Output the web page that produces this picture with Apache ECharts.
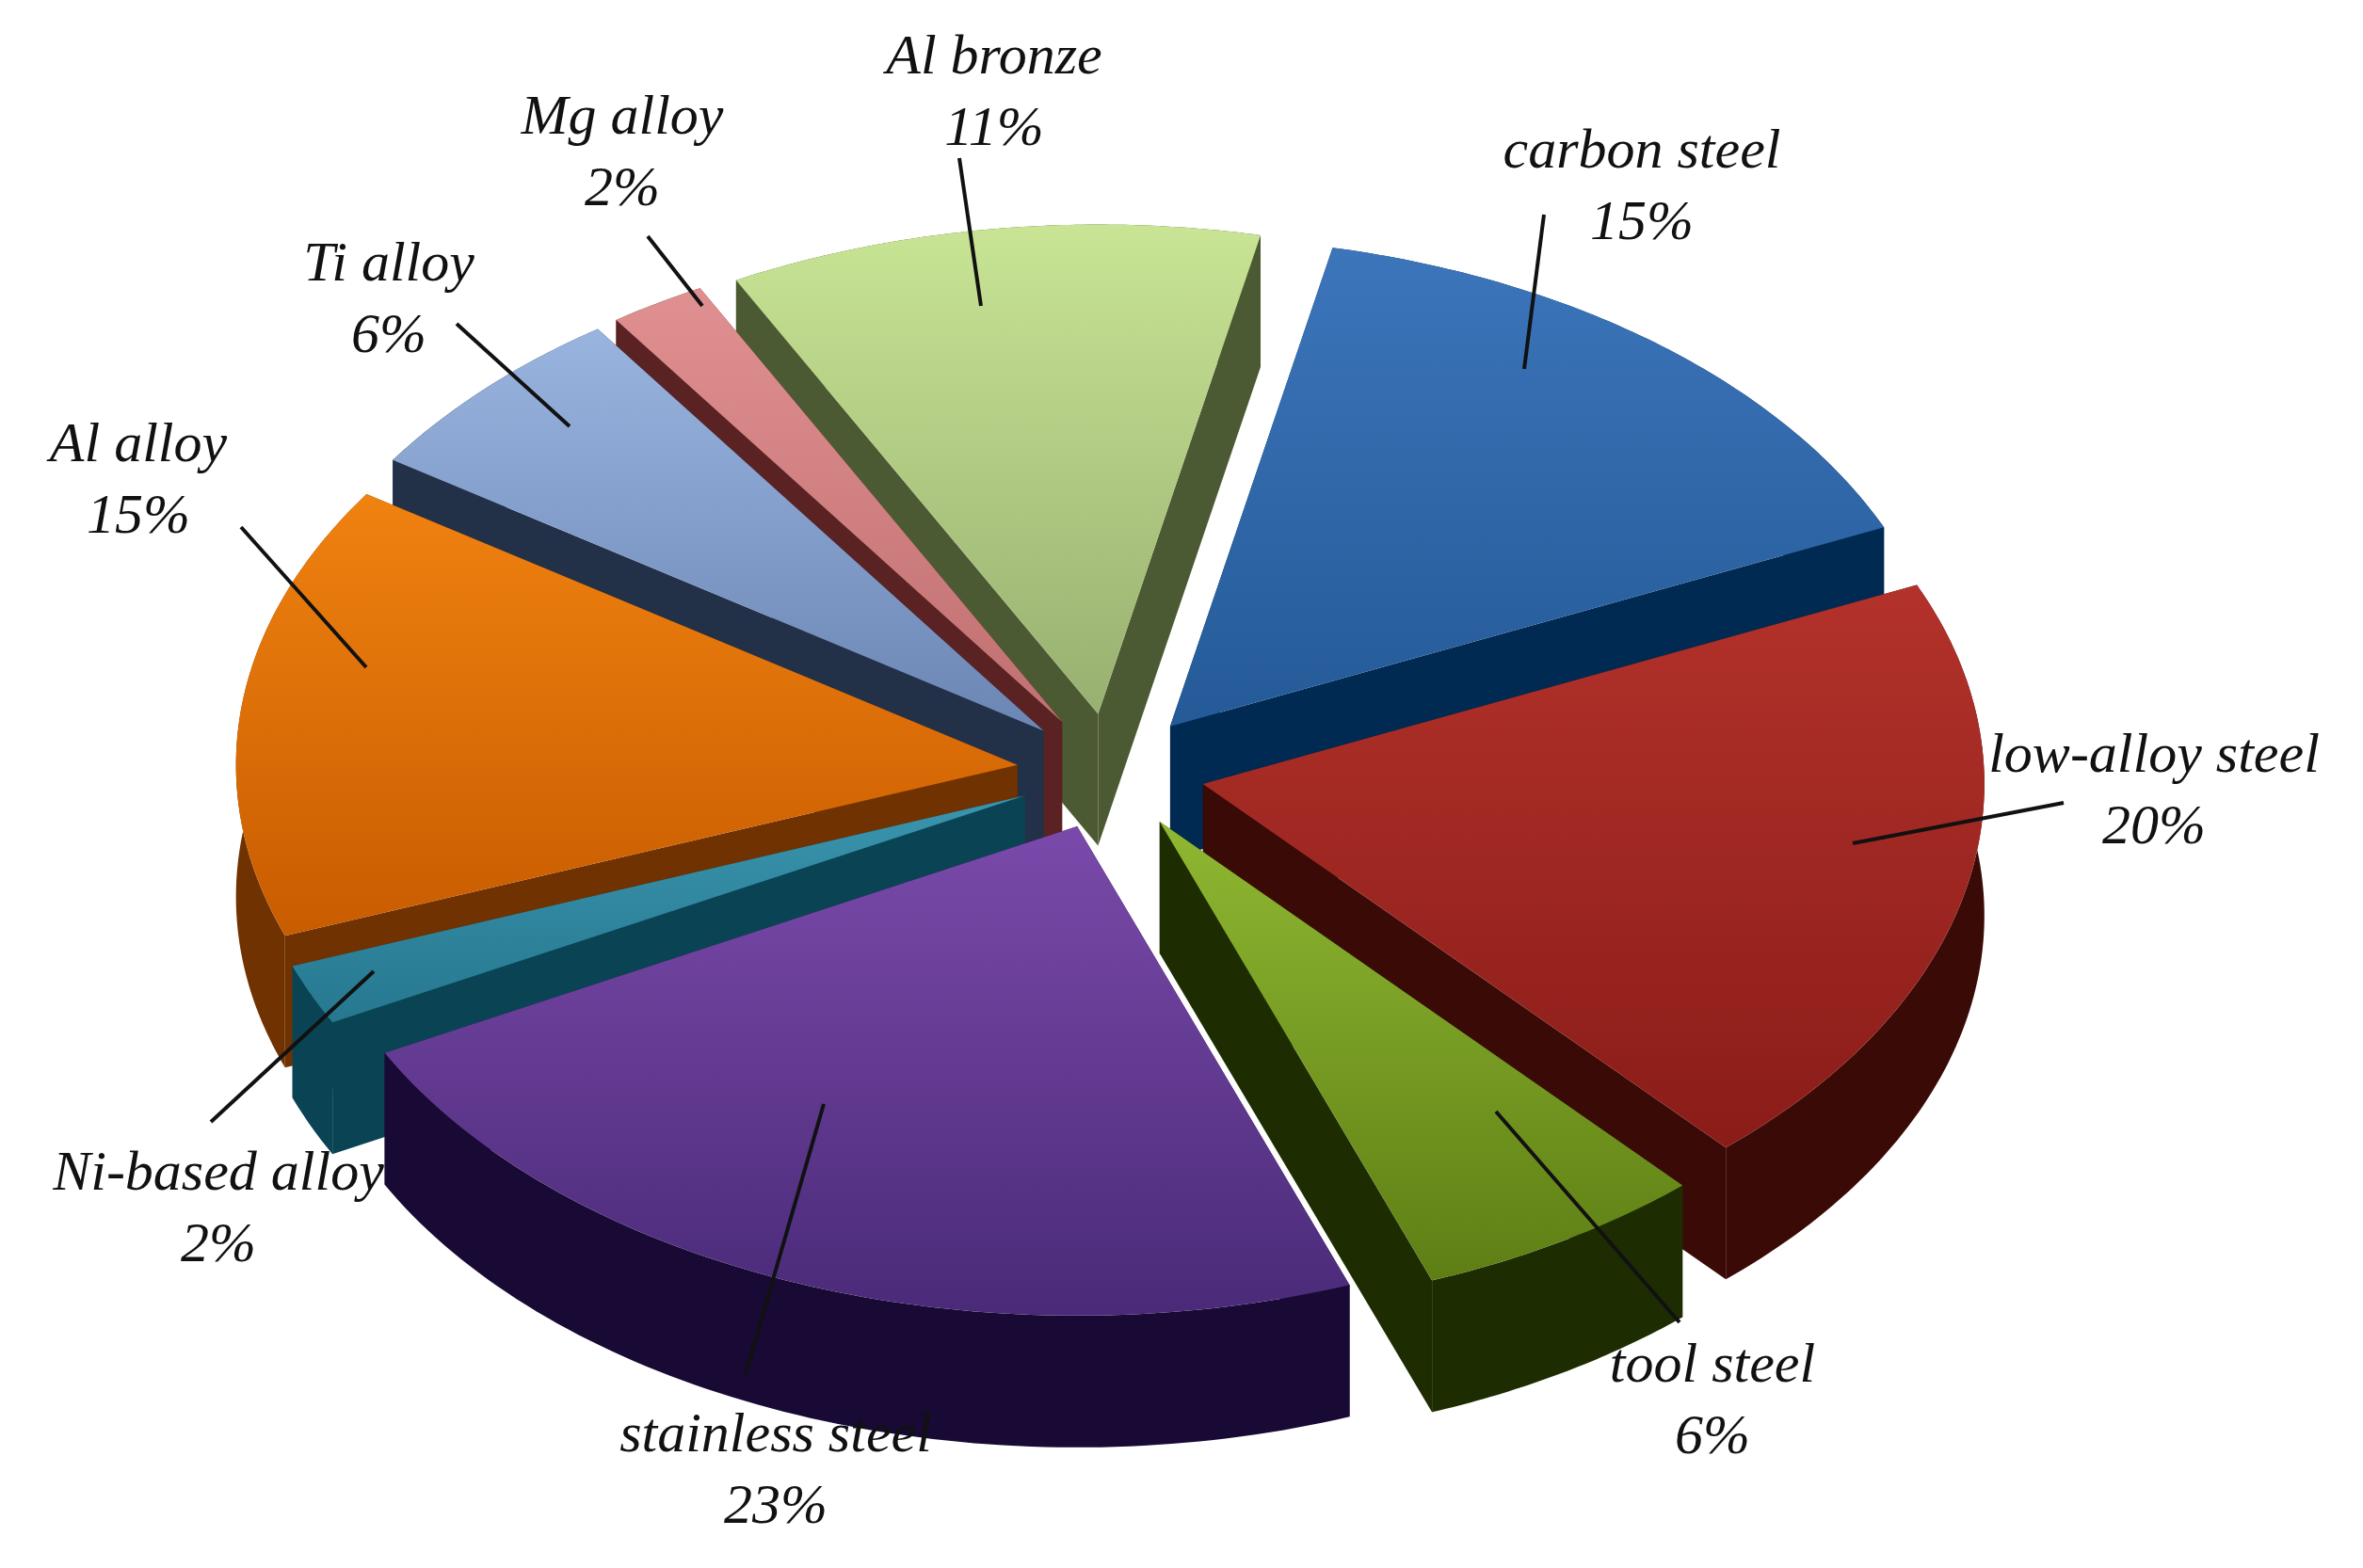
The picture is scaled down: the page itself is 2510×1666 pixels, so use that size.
<!DOCTYPE html>
<html><head><meta charset="utf-8">
<script src="https://cdn.jsdelivr.net/npm/echarts@6/dist/echarts.min.js"></script>
<style>html,body{margin:0;background:#fff}#c{width:2510px;height:1666px}</style>
</head><body><div id="c"></div>
<script>
// slices, clockwise from top
const names = ["carbon steel", "low-alloy steel", "tool steel", "stainless steel", "Ni-based alloy", "Al alloy", "Ti alloy", "Mg alloy", "Al bronze"];
const shares = [15, 20, 6, 23, 2, 15, 6, 2, 11];
const topColors = [["#3d75bb", "#245a97"], ["#b3322b", "#8a1c18"], ["#8fb832", "#5e7e14"], ["#7a4aaa", "#4a2a78"], ["#3a95ae", "#26788f"], ["#f08210", "#c85c00"], ["#9ab4e0", "#6c86b4"], ["#e09090", "#c07070"], ["#c8e494", "#98b070"]];
const sideColors = ["#002a52", "#3a0a06", "#1e2c02", "#180a34", "#0a4454", "#703200", "#223048", "#5a2222", "#4c5a34"];
// label anchor positions (pixels) and label-line ends
const labelPos = [[1744, 200], [2288, 842], [1819, 1490], [824, 1564], [232, 1286], [147, 512], [413, 320], [661, 164], [1056, 100]];
const lineEnd = [[1640, 228], [2192, 853], [1784, 1405], [792, 1460], [224, 1192], [256, 560], [485, 344], [688, 251], [1019, 168]];
const lineIn = [[1619, 392], [1968, 896], [1589, 1181], [875, 1173], [397, 1032], [389, 709], [605, 453], [746, 325], [1042, 325]];

const cx = 1180, cy = 820, rx = 830, ry = 520, depth = 140, explode = 100, startDeg = 12;

const chart = echarts.init(document.getElementById('c'));
const total = shares.reduce((a, b) => a + b, 0);
let acc = startDeg;
const slices = shares.map((v, i) => {
  const a0 = acc, a1 = acc + v / total * 360; acc = a1;
  return { i, a0, a1, mid: (a0 + a1) / 2 };
});
const rad = d => d * Math.PI / 180;
function pt(ox, oy, deg, k, dz) {
  return [ox + k * rx * Math.sin(rad(deg)), oy - k * ry * Math.cos(rad(deg)) + (dz || 0)];
}
// draw back to front
const order = slices.slice().sort((a, b) => Math.cos(rad(b.mid)) - Math.cos(rad(a.mid)));

function renderSlice(params, api) {
  const s = order[params.dataIndex];
  const i = s.i;
  const ox = cx + explode * Math.sin(rad(s.mid));
  const oy = cy - explode * 0.62 * Math.cos(rad(s.mid));
  const arc = [];
  for (let d = s.a0; d <= s.a1 + 0.01; d += Math.max(0.5, (s.a1 - s.a0) / 80)) arc.push(d);
  if (arc[arc.length - 1] < s.a1) arc.push(s.a1);
  const top = [[ox, oy]].concat(arc.map(d => pt(ox, oy, d, 1)));
  const outer = arc.map(d => pt(ox, oy, d, 1)).concat(arc.slice().reverse().map(d => pt(ox, oy, d, 1, depth)));
  const wall = d => [[ox, oy], pt(ox, oy, d, 1), pt(ox, oy, d, 1, depth), [ox, oy + depth]];
  const side = sideColors[i];
  const grad = new echarts.graphic.LinearGradient(0, 0, 0, 1, [{ offset: 0, color: topColors[i][0] }, { offset: 1, color: topColors[i][1] }]);
  return {
    type: 'group',
    children: [
      { type: 'polygon', shape: { points: wall(s.a0) }, style: { fill: side } },
      { type: 'polygon', shape: { points: wall(s.a1) }, style: { fill: side } },
      { type: 'polygon', shape: { points: outer }, style: { fill: side } },
      { type: 'polygon', shape: { points: top }, style: { fill: grad } }
    ]
  };
}

function renderLabel(params, api) {
  const i = params.dataIndex;
  return {
    type: 'group',
    children: [
      { type: 'line', shape: { x1: lineIn[i][0], y1: lineIn[i][1], x2: lineEnd[i][0], y2: lineEnd[i][1] }, style: { stroke: '#111', lineWidth: 4 } },
      { type: 'text', x: labelPos[i][0], y: labelPos[i][1], style: { text: names[i] + '\n' + shares[i] + '%', fill: '#111', font: 'italic 60px "Liberation Serif"', align: 'center', verticalAlign: 'middle', lineHeight: 76 } }
    ]
  };
}

chart.setOption({
  backgroundColor: '#fff',
  animation: false,
  xAxis: { show: false, min: 0, max: 1 },
  yAxis: { show: false, min: 0, max: 1 },
  grid: { left: 0, right: 0, top: 0, bottom: 0 },
  series: [
    { type: 'custom', renderItem: renderSlice, data: order.map(s => [s.i, shares[s.i]]) },
    { type: 'custom', renderItem: renderLabel, data: shares.map((v, i) => [i, v]), z: 5 }
  ]
});
</script></body></html>
